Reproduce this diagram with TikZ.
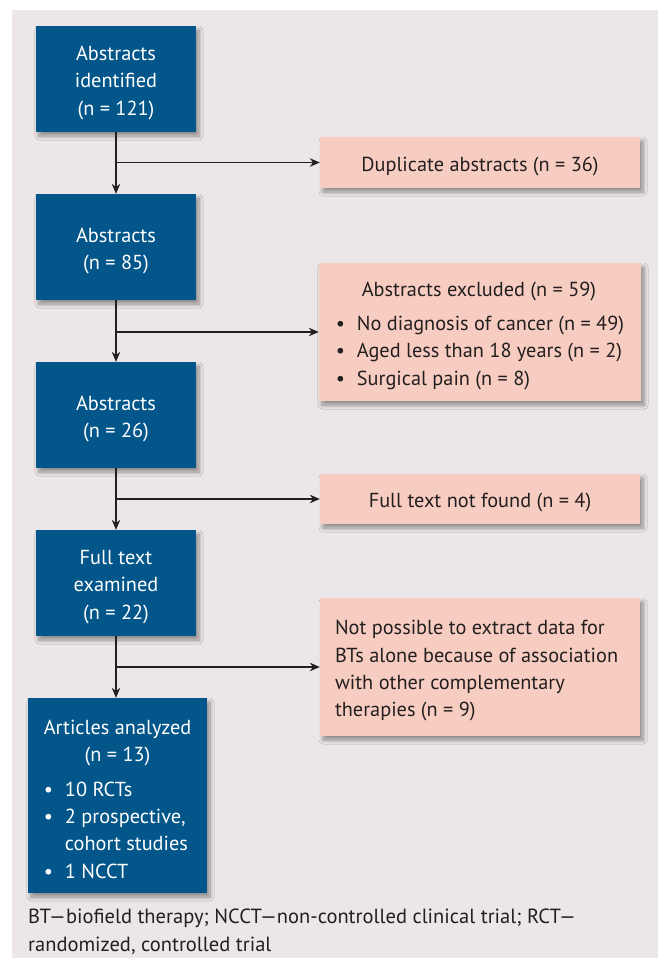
\documentclass[tikz,border=0pt]{standalone}
\usepackage{fontspec}
\setmainfont{PT Sans}
\usetikzlibrary{arrows.meta,shadows.blur}
\definecolor{bgc}{HTML}{ECE6E8}
\definecolor{bluec}{HTML}{03568A}
\definecolor{salmon}{HTML}{F8CDC1}
\definecolor{ink}{HTML}{231F20}
\newcommand{\upstrut}{\rule{0pt}{22bp}}
\begin{document}
\begin{tikzpicture}[x=1bp,y=-1bp,
  every node/.style={font=\fontsize{20.3bp}{27.3bp}\selectfont},
  shad/.style={blur shadow={shadow xshift=3bp, shadow yshift=-4bp, shadow blur radius=4bp, shadow blur steps=8, shadow opacity=40}},
  bluebox/.style={shad, fill=bluec, text=white, align=center, inner sep=0pt},
  pinkbox/.style={shad, fill=salmon, text=ink, inner sep=0pt, minimum width=320bp},
  arr/.style={draw=ink, line width=1.1bp, -{Stealth[length=10bp,width=8.5bp]}}]
\useasboundingbox (0,0) rectangle (658,958);
\fill[bgc] (12,10) rectangle (658,958);

% main column
\node[bluebox, minimum width=160bp, minimum height=106bp] (b1) at (116,79)
  {\upstrut Abstracts\\identified\\(n = 121)};
\node[bluebox, minimum width=160bp, minimum height=106bp] (b2) at (116,247)
  {\upstrut Abstracts\\(n = 85)};
\node[bluebox, minimum width=160bp, minimum height=106bp] (b3) at (116,415)
  {\upstrut Abstracts\\(n = 26)};
\node[bluebox, minimum width=160bp, minimum height=106bp] (b4) at (116,583)
  {\upstrut Full text\\examined\\(n = 22)};
\node[bluebox, align=left, minimum width=179bp, minimum height=195bp, inner xsep=16bp] (b5) at (117.5,795.5)
  {\upstrut\makebox[147bp][c]{Articles analyzed}\\
   \makebox[147bp][c]{(n = 13)}\\[7bp]
   \makebox[21bp][l]{\textbullet}10 RCTs\\
   \makebox[21bp][l]{\textbullet}2 prospective,\\
   \hspace*{21bp}cohort studies\\
   \makebox[21bp][l]{\textbullet}1 NCCT};

% side boxes
\node[pinkbox, minimum height=51bp] (r1) at (480,162.5)
  {\upstrut Duplicate abstracts (n = 36)};
\node[pinkbox, minimum height=138bp, align=left, inner xsep=17bp] (r2) at (480,332)
  {\upstrut\makebox[286bp][c]{Abstracts excluded (n = 59)}\\[7bp]
   \makebox[21bp][l]{\textbullet}No diagnosis of cancer (n = 49)\\
   \makebox[21bp][l]{\textbullet}Aged less than 18 years (n = 2)\\
   \makebox[21bp][l]{\textbullet}Surgical pain (n = 8)};
\node[pinkbox, minimum height=50bp] (r3) at (480,499)
  {\upstrut Full text not found (n = 4)};
\node[pinkbox, minimum height=138bp, align=left, inner xsep=15bp] (r4) at (480,667)
  {\upstrut\makebox[290bp][l]{Not possible to extract data for}\\
   BTs alone because of association\\
   with other complementary\\
   therapies (n = 9)};

% connectors
\draw[arr] (b1) -- (b2);
\draw[arr] (b2) -- (b3);
\draw[arr] (b3) -- (b4);
\draw[arr] (b4) -- (b4.south |- b5.north);
\coordinate (c1) at (b1.south |- r1.west);
\coordinate (c2) at (b2.south |- r2.west);
\coordinate (c3) at (b3.south |- r3.west);
\coordinate (c4) at (b4.south |- r4.west);
\draw[arr] (c1) -- (r1.west);
\draw[arr] (c2) -- (r2.west);
\draw[arr] (c3) -- (r3.west);
\draw[arr] (c4) -- (r4.west);

% footnote
\node[anchor=north west, text=ink, align=left, inner sep=0pt, font=\fontsize{20.5bp}{28bp}\selectfont] (fn) at (28,909)
  {BT—biofield therapy; NCCT—non-controlled clinical trial; RCT—\\
   randomized, controlled trial};
\end{tikzpicture}
\end{document}
